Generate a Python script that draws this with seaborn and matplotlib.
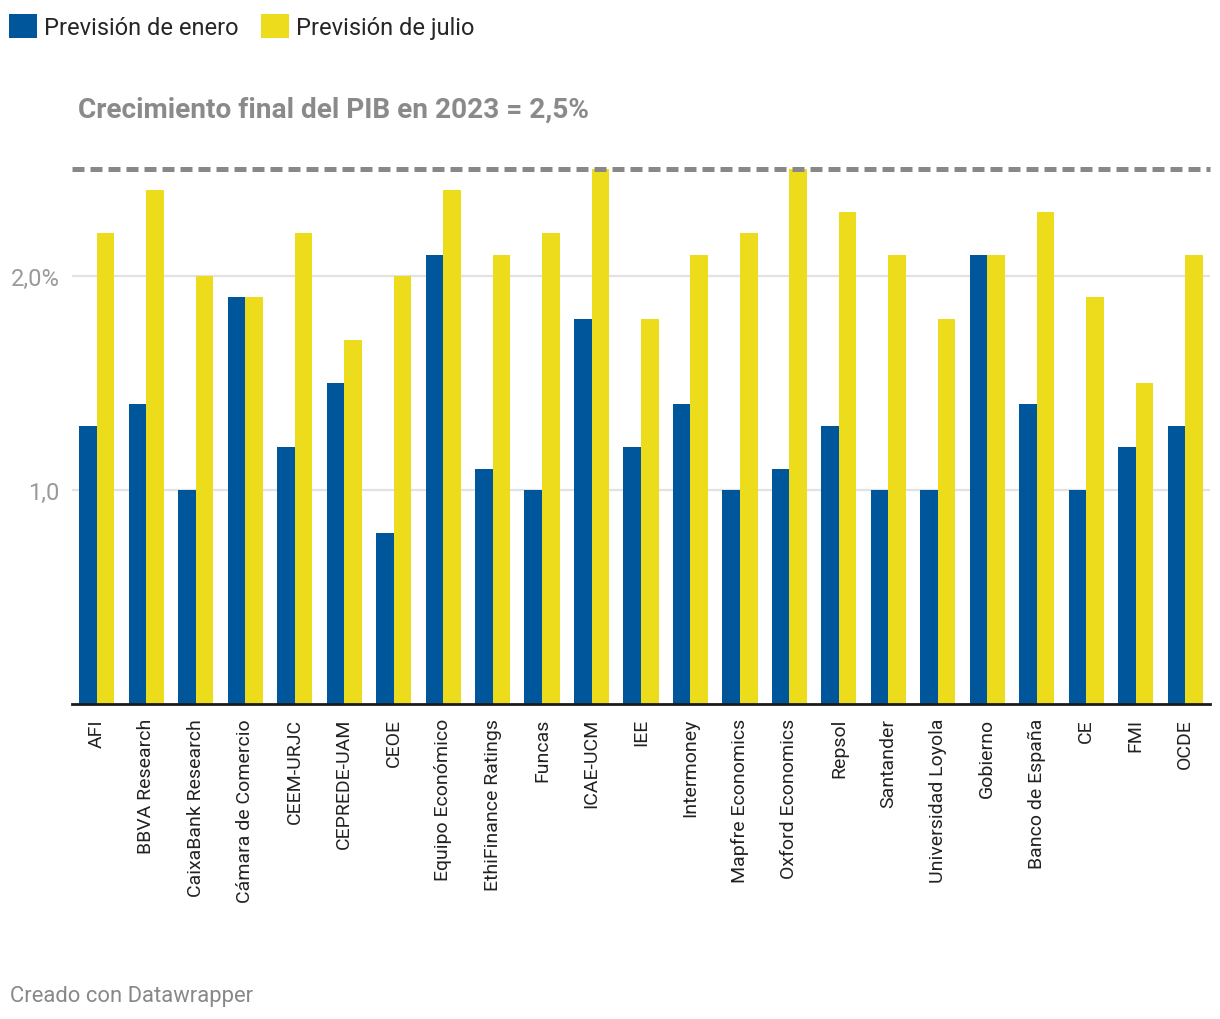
import matplotlib
matplotlib.use("Agg")
import matplotlib.pyplot as plt
import seaborn as sns
import pandas as pd
from matplotlib.patches import Patch

categories = ["AFI", "BBVA Research", "CaixaBank Research", "Cámara de Comercio",
              "CEEM-URJC", "CEPREDE-UAM", "CEOE", "Equipo Económico",
              "EthiFinance Ratings", "Funcas", "ICAE-UCM", "IEE", "Intermoney",
              "Mapfre Economics", "Oxford Economics", "Repsol", "Santander",
              "Universidad Loyola", "Gobierno", "Banco de España", "CE", "FMI", "OCDE"]
enero = [1.3, 1.4, 1.0, 1.9, 1.2, 1.5, 0.8, 2.1, 1.1, 1.0, 1.8, 1.2, 1.4,
         1.0, 1.1, 1.3, 1.0, 1.0, 2.1, 1.4, 1.0, 1.2, 1.3]
julio = [2.2, 2.4, 2.0, 1.9, 2.2, 1.7, 2.0, 2.4, 2.1, 2.2, 2.5, 1.8, 2.1,
         2.2, 2.5, 2.3, 2.1, 1.8, 2.1, 2.3, 1.9, 1.5, 2.1]
series_names = ["Previsión de enero", "Previsión de julio"]
final_value = 2.5
title_text = "Crecimiento final del PIB en 2023 = 2,5%"
ytick_vals = [1.0, 2.0]
ytick_labels = ["1,0", "2,0%"]

colors = ["#00569a", "#ecdc1b"]

df = pd.DataFrame({
    "cat": categories * 2,
    "val": enero + julio,
    "serie": [series_names[0]] * len(categories) + [series_names[1]] * len(categories),
})

sns.set_theme(style="white")
plt.rcParams["font.family"] = ["Roboto", "DejaVu Sans"]

fig = plt.figure(figsize=(12.2, 10.2), dpi=100)
ax = fig.add_axes([72 / 1220, 1 - 705 / 1020, (1210 - 72) / 1220, (705 - 150) / 1020])

sns.barplot(data=df, x="cat", y="val", hue="serie", palette=colors,
            width=0.71, saturation=1, ax=ax, legend=False, linewidth=0,
            edgecolor="none")

ax.set_ylim(0, (705 - 150) / 214)
ax.set_xlim(-0.5, len(categories) - 0.5)
ax.set_xlabel("")
ax.set_ylabel("")
for s in ["top", "right", "left"]:
    ax.spines[s].set_visible(False)
ax.spines["bottom"].set_color("#1a1a1a")
ax.spines["bottom"].set_linewidth(2)
ax.spines["bottom"].set_zorder(5)

for v in ytick_vals:
    ax.axhline(v, color="#e2e2e2", lw=1.6, zorder=0)
ax.set_yticks(ytick_vals)
ax.set_yticklabels(ytick_labels, fontsize=17, color="#9a9a9a")
ax.tick_params(axis="y", length=0, pad=9)
ax.tick_params(axis="x", length=0, pad=10)
plt.setp(ax.get_xticklabels(), rotation=90, fontsize=14, color="#222222")

ax.axhline(final_value, color="#888888", lw=3.6, dashes=(2.4, 1.2), zorder=6,
           clip_on=False)

fig.text(78 / 1220, 1 - 110 / 1020, title_text, fontsize=20.2, fontweight="bold",
         color="#8a8a8a", va="center", ha="left")

handles = [Patch(facecolor=c, edgecolor="none") for c in colors]
fig.legend(handles, series_names, loc="upper left", bbox_to_anchor=(0 / 1220, 1 - 6 / 1020),
           frameon=False, fontsize=17, handlelength=1.18, handleheight=1.18,
           handletextpad=0.3, columnspacing=0.95, ncol=2, borderaxespad=0)

fig.text(10 / 1220, 1 - 997 / 1020, "Creado con Datawrapper", fontsize=15.8,
         color="#888888", va="center", ha="left")

fig.savefig("out.png", dpi=100, facecolor="white")
